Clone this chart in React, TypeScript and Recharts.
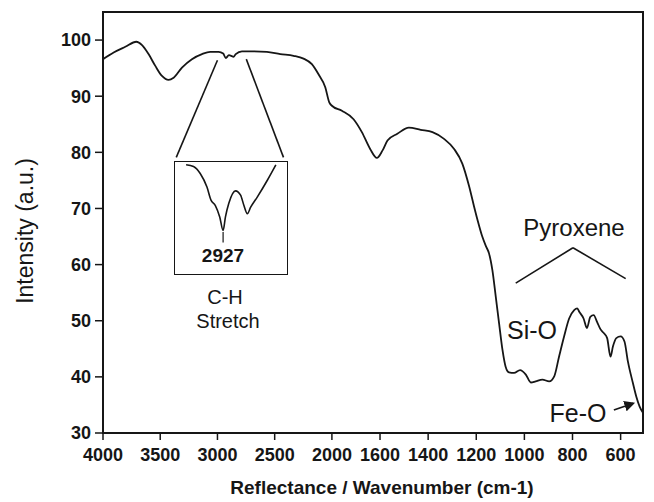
import {
    LineChart,
    Line,
    XAxis,
    YAxis,
    ReferenceLine,
    ReferenceArea,
} from "recharts";

// main spectrum
const wavenumbers = [
    4000, 3907, 3805, 3709, 3659, 3602, 3543, 3485, 3427, 3383, 3310, 3223, 3135,
    3063, 2990, 2950, 2927, 2900, 2880, 2860, 2840, 2786, 2685, 2568, 2451, 2335,
    2248, 2175, 2117, 2058, 2023, 2000, 1917, 1820, 1751, 1682, 1626, 1590, 1569,
    1528, 1480, 1431, 1382, 1334, 1292, 1258, 1230, 1210, 1195, 1175, 1160, 1147,
    1133, 1119, 1105, 1091, 1078, 1064, 1043, 1018, 994, 973, 953, 925, 897, 876,
    856, 835, 814, 793, 780, 772, 754, 740, 726, 712, 698, 684, 670, 656, 642, 632,
    618, 600, 584, 570, 549, 535, 521, 507,
];
const intensity = [
    96.6, 97.8, 98.8, 99.7, 99.1, 97.5, 95.4, 93.6, 92.9, 93.3, 95.1, 96.6, 97.5,
    97.9, 97.9, 97.6, 96.8, 97.3, 97.2, 97.0, 97.5, 98.0, 98.0, 97.9, 97.5, 97.2,
    96.7, 95.7, 93.9, 91.6, 88.9, 88.3, 87.4, 85.9, 83.6, 80.6, 79.0, 80.3, 82.1,
    83.3, 84.4, 84.0, 83.6, 82.4, 80.6, 78.0, 74.0, 70.5, 68.0, 65.0, 63.3, 62.0,
    59.0, 54.3, 49.5, 44.8, 41.8, 40.8, 40.7, 41.2, 40.4, 39.0, 39.2, 39.5, 39.2,
    40.1, 43.6, 47.2, 50.4, 51.9, 52.2, 51.6, 50.4, 48.7, 50.7, 51.0, 49.8, 48.5,
    47.8, 46.9, 43.6, 45.4, 46.9, 47.2, 46.3, 42.8, 38.9, 36.5, 34.7, 33.6,
];

const xTickLabels = [4000, 3500, 3000, 2500, 2000, 1600, 1400, 1200, 1000, 800, 600];
const yTicks = [30, 40, 50, 60, 70, 80, 90, 100];

// C-H stretch close-up shown in the inset box
const insetWavenumbers = [
    3037, 3015, 2995, 2975, 2963, 2950, 2937, 2927, 2920, 2910, 2890, 2875, 2865,
    2855, 2845, 2825, 2795, 2770,
];
const insetIntensity = [
    98.03, 98.0, 97.87, 97.62, 97.38, 97.28, 97.07, 96.82, 97.07, 97.32, 97.55,
    97.47, 97.28, 97.13, 97.25, 97.44, 97.75, 98.03,
];

// the x axis is broken: 500 per tick above 2000, 400 between 2000 and 1600, 200 below
const STEP_A = 57.25;
const STEP_B = 48.14;
const toPos = (w: number) =>
    w >= 2000
        ? ((4000 - w) / 500) * STEP_A
        : w >= 1600
        ? 4 * STEP_A + ((2000 - w) / 400) * STEP_B
        : 4 * STEP_A + STEP_B + ((1600 - w) / 200) * STEP_B;
const X_END = toPos(507);

const data = wavenumbers.map((w, i) => ({ pos: toPos(w), intensity: intensity[i] }));
const insetData = insetWavenumbers.map((w, i) => ({ w, intensity: insetIntensity[i] }));
const xTicks = xTickLabels.map(toPos);
const fmtX = (v: number) => {
    const i = xTicks.findIndex((t) => Math.abs(t - v) < 0.5);
    return i >= 0 ? String(xTickLabels[i]) : "";
};

const FONT = "'Liberation Sans', Arial, Helvetica, sans-serif";
const INK = "#161616";

const seg = (w1: number, i1: number, w2: number, i2: number) => [
    { x: toPos(w1), y: i1 },
    { x: toPos(w2), y: i2 },
];

const arrowShape = (p: any) => (
    <g>
        <defs>
            <marker id="feo-arrow" markerWidth="6" markerHeight="6" refX="5" refY="3" orient="auto">
                <path d="M0,0 L6,3 L0,6 Z" fill={INK} />
            </marker>
        </defs>
        <line x1={p.x1} y1={p.y1} x2={p.x2} y2={p.y2} stroke={INK} strokeWidth={1.8} markerEnd="url(#feo-arrow)" />
    </g>
);

export default function App() {
    return (
        <div
            style={{
                position: "absolute",
                left: 0,
                top: 0,
                width: 654,
                height: 502,
                background: "#fff",
                fontFamily: FONT,
            }}
        >
            <LineChart
                width={654}
                height={502}
                data={data}
                margin={{ top: 12, right: 11, bottom: 0, left: 0 }}
            >
                <XAxis
                    dataKey="pos"
                    type="number"
                    domain={[0, X_END]}
                    ticks={xTicks}
                    tickFormatter={fmtX}
                    interval={0}
                    allowDataOverflow
                    height={69}
                    tickSize={7}
                    tickMargin={8}
                    axisLine={{ stroke: INK, strokeWidth: 2 }}
                    tickLine={{ stroke: INK, strokeWidth: 1.5 }}
                    tick={{ fill: INK, fontSize: 18, fontWeight: 700, fontFamily: FONT }}
                />
                <YAxis
                    type="number"
                    domain={[30, 105]}
                    ticks={yTicks}
                    interval={0}
                    allowDataOverflow
                    width={103}
                    tickSize={8}
                    tickMargin={4}
                    axisLine={{ stroke: INK, strokeWidth: 2 }}
                    tickLine={{ stroke: INK, strokeWidth: 1.5 }}
                    tick={{ fill: INK, fontSize: 18, fontWeight: 700, fontFamily: FONT }}
                />
                <ReferenceArea x1={0} x2={X_END} y1={30} y2={105} fill="none" stroke={INK} strokeWidth={2} />
                {/* zoom lines to the inset */}
                <ReferenceLine segment={seg(3360, 79.1, 3000, 96.4)} stroke={INK} strokeWidth={1.6} />
                <ReferenceLine segment={seg(2748, 96.6, 2423, 79.1)} stroke={INK} strokeWidth={1.6} />
                {/* pyroxene caret */}
                <ReferenceLine segment={seg(1036, 56.7, 798, 63.0)} stroke={INK} strokeWidth={1.6} />
                <ReferenceLine segment={seg(798, 63.0, 579, 57.5)} stroke={INK} strokeWidth={1.6} />
                {/* Fe-O arrow */}
                <ReferenceLine segment={seg(628, 34.1, 547, 35.3)} shape={arrowShape} />
                <Line
                    type="monotone"
                    dataKey="intensity"
                    stroke={INK}
                    strokeWidth={1.8}
                    dot={false}
                    isAnimationActive={false}
                />
            </LineChart>

            {/* inset close-up */}
            <div style={{ position: "absolute", left: 174, top: 161 }}>
                <LineChart width={114} height={114} data={insetData} margin={{ top: 0, right: 0, bottom: 0, left: 0 }}>
                    <XAxis dataKey="w" type="number" domain={[2734, 3073]} reversed hide allowDataOverflow />
                    <YAxis type="number" domain={[96.0, 98.1]} hide allowDataOverflow />
                    <ReferenceArea x1={2734} x2={3073} y1={96.0} y2={98.1} fill="none" stroke={INK} strokeWidth={2} />
                    <ReferenceLine
                        segment={[
                            { x: 2927, y: 96.79 },
                            { x: 2927, y: 96.6 },
                        ]}
                        stroke={INK}
                        strokeWidth={1.2}
                    />
                    <Line
                        type="monotone"
                        dataKey="intensity"
                        stroke={INK}
                        strokeWidth={1.6}
                        dot={false}
                        isAnimationActive={false}
                    />
                </LineChart>
            </div>

            <svg
                width={654}
                height={502}
                style={{ position: "absolute", left: 0, top: 0, pointerEvents: "none" }}
                fontFamily={FONT}
                fill={INK}
            >
                <text x={382} y={487} textAnchor="middle" dominantBaseline="central" fontSize={19} fontWeight={700}>
                    Reflectance / Wavenumber (cm-1)
                </text>
                <text
                    x={25}
                    y={231}
                    textAnchor="middle"
                    dominantBaseline="central"
                    fontSize={23}
                    transform="rotate(-90 25 231)"
                >
                    Intensity (a.u.)
                </text>
                <text x={223} y={255} textAnchor="middle" dominantBaseline="central" fontSize={19} fontWeight={700}>
                    2927
                </text>
                <text x={225} y={297} textAnchor="middle" dominantBaseline="central" fontSize={20}>
                    C-H
                </text>
                <text x={228} y={321} textAnchor="middle" dominantBaseline="central" fontSize={20}>
                    Stretch
                </text>
                <text x={574} y={227} textAnchor="middle" dominantBaseline="central" fontSize={24}>
                    Pyroxene
                </text>
                <text x={532} y={330} textAnchor="middle" dominantBaseline="central" fontSize={25}>
                    Si-O
                </text>
                <text x={578} y={413} textAnchor="middle" dominantBaseline="central" fontSize={25}>
                    Fe-O
                </text>
            </svg>
        </div>
    );
}
